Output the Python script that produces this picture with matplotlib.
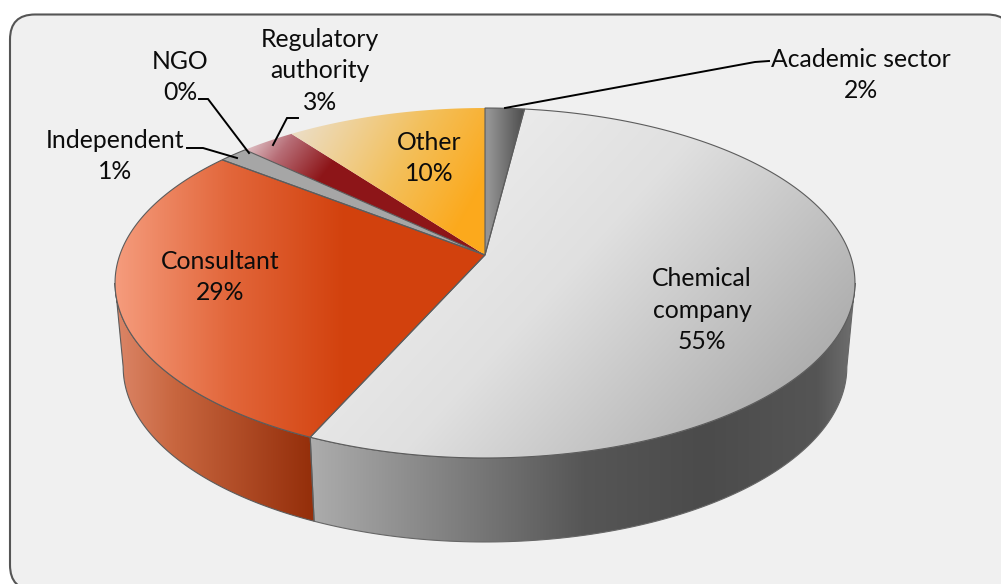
import numpy as np
import matplotlib
matplotlib.use('Agg')
import matplotlib.pyplot as plt
from matplotlib.colors import to_rgb
from matplotlib.patches import FancyBboxPatch, PathPatch
from matplotlib.path import Path

plt.rcParams['font.family'] = ['Lato', 'DejaVu Sans']

# pie data, clockwise from 12 o'clock
categories = ['Academic sector', 'Chemical\ncompany', 'Consultant', 'Independent', 'NGO', 'Regulatory\nauthority', 'Other']
shares = [2.0, 54.7, 28.8, 1.3, 0.2, 2.8, 10.2]
percent_labels = ['2%', '55%', '29%', '1%', '0%', '3%', '10%']

W, H = 1001, 584
fig = plt.figure(figsize=(W / 100, H / 100), dpi=100)
ax = fig.add_axes([0, 0, 1, 1])
ax.set_xlim(0, W)
ax.set_ylim(H, 0)
ax.axis('off')

# frame runs off the right and bottom of the picture
ax.add_patch(FancyBboxPatch((10 + 25, 14.5 + 25), 1012 - 10 - 50, 590 - 14.5 - 50,
                            boxstyle='round,pad=25,rounding_size=25', fc='#f0f0f0', ec='#555555', lw=1.5,
                            zorder=0, clip_on=True))

# tilted disc: a unit circle under a perspective tilt, apex at the centre
CX, CY = 485, 255
A, B, K = 365.2, 170.5, 0.16
DEPTH, SHRINK = 84, 0.978
# angles where the rim is widest, the wall stops there
SIDE_R, SIDE_L = 99.2, 260.8


def rim(deg):
    t = np.radians(deg)
    u, v = np.sin(t), np.cos(t)
    d = 1 + K * v
    return CX + A * u / d, CY - B * v / d


def rim_low(deg):
    x, y = rim(deg)
    return CX + (x - CX) * SHRINK, y + DEPTH


yy, xx = np.mgrid[0:H, 0:W]


def grad_fill(xs, ys, p0, p1, stops, z, edge='#5c5c5c', lw=0.8):
    # linear gradient from p0 to p1, clipped to the polygon
    dx, dy = p1[0] - p0[0], p1[1] - p0[1]
    f = ((xx - p0[0]) * dx + (yy - p0[1]) * dy) / (dx * dx + dy * dy)
    pos = [s[0] for s in stops]
    rgb = np.array([to_rgb(s[1]) for s in stops])
    img = np.dstack([np.interp(f, pos, rgb[:, i]) for i in range(3)])
    verts = np.column_stack([xs, ys])
    path = Path(np.vstack([verts, verts[0]]), closed=True)
    im = ax.imshow(img, extent=(0, W, H, 0), aspect='auto', zorder=z, interpolation='bilinear')
    im.set_clip_path(PathPatch(path, transform=ax.transData))
    if edge:
        ax.add_patch(PathPatch(path, fc='none', ec=edge, lw=lw, zorder=z + 0.1))


def wall(a0, a1, p0, p1, stops, edge='#5c5c5c'):
    d = np.linspace(a0, a1, 120)
    ux, uy = rim(d)
    lx, ly = rim_low(d[::-1])
    grad_fill(np.r_[ux, lx], np.r_[uy, ly], p0, p1, stops, 2, edge=edge)


def top(a0, a1, p0, p1, stops, edge='#5c5c5c'):
    d = np.linspace(a0, a1, max(int(a1 - a0) * 3, 4))
    x, y = rim(d)
    grad_fill(np.r_[CX, x], np.r_[CY, y], p0, p1, stops, 3, edge=edge)


ends = np.cumsum(shares) / np.sum(shares) * 360
starts = np.r_[0, ends[:-1]]

# side wall, only the front of the disc shows
wall(SIDE_R, ends[1], (312, 0), (855, 0),
     [(0, '#acacac'), (0.5, '#565656'), (0.72, '#4b4b4b'), (0.93, '#555555'), (1, '#707070')], edge='#666666')
wall(ends[1], SIDE_L, (115, 0), (312, 0),
     [(0, '#dc8668'), (0.3, '#c8663f'), (1, '#942e0a')])

# top faces
top(starts[0], ends[0], (488, 0), (522, 0), [(0, '#949494'), (1, '#505050')])
top(starts[1], ends[1], (430, 150), (770, 460),
    [(0, '#ededed'), (0.4, '#e0e0e0'), (1, '#a8a8a8')])
top(starts[2], ends[2], (115, 0), (345, 0),
    [(0, '#f59c7d'), (0.5, '#e2663a'), (1, '#d2410d')])
top(starts[3], ends[4], (0, 0), (1, 0), [(0, '#a6a6a6'), (1, '#a6a6a6')])
top(starts[5], ends[5], (262, 133), (320, 178), [(0, '#d9b5ba'), (0.35, '#b76d76'), (1, '#8d1518')], edge=None)
top(starts[6], ends[6], (310, 115), (470, 205),
    [(0, '#ecdcc0'), (0.55, '#f3c05c'), (1, '#fca91c')], edge=None)

# labels
fs = 17.8
label_pos = [(861, 75), (702, 310), (220, 277), (115, 156), (180, 77), (320, 71), (429, 158)]
for pos, txt, pct in zip(label_pos, categories, percent_labels):
    ax.text(pos[0], pos[1], txt + '\n' + pct, ha='center', va='center', fontsize=fs, color='#0c0c0c',
            linespacing=1.45, zorder=6)

# leader lines
leaders = [
    [(505, 108), (755, 62), (769, 61)],
    [(199, 99), (208, 99), (249, 153)],
    [(298, 118), (287, 118), (273, 145)],
    [(187, 148), (203, 148), (237, 158)],
]
for pts in leaders:
    ax.plot([p[0] for p in pts], [p[1] for p in pts], color='black', lw=1.4, zorder=5, solid_joinstyle='miter')

ax.set_xlim(0, W)
ax.set_ylim(H, 0)
fig.savefig('out.png', dpi=100, facecolor='white')
